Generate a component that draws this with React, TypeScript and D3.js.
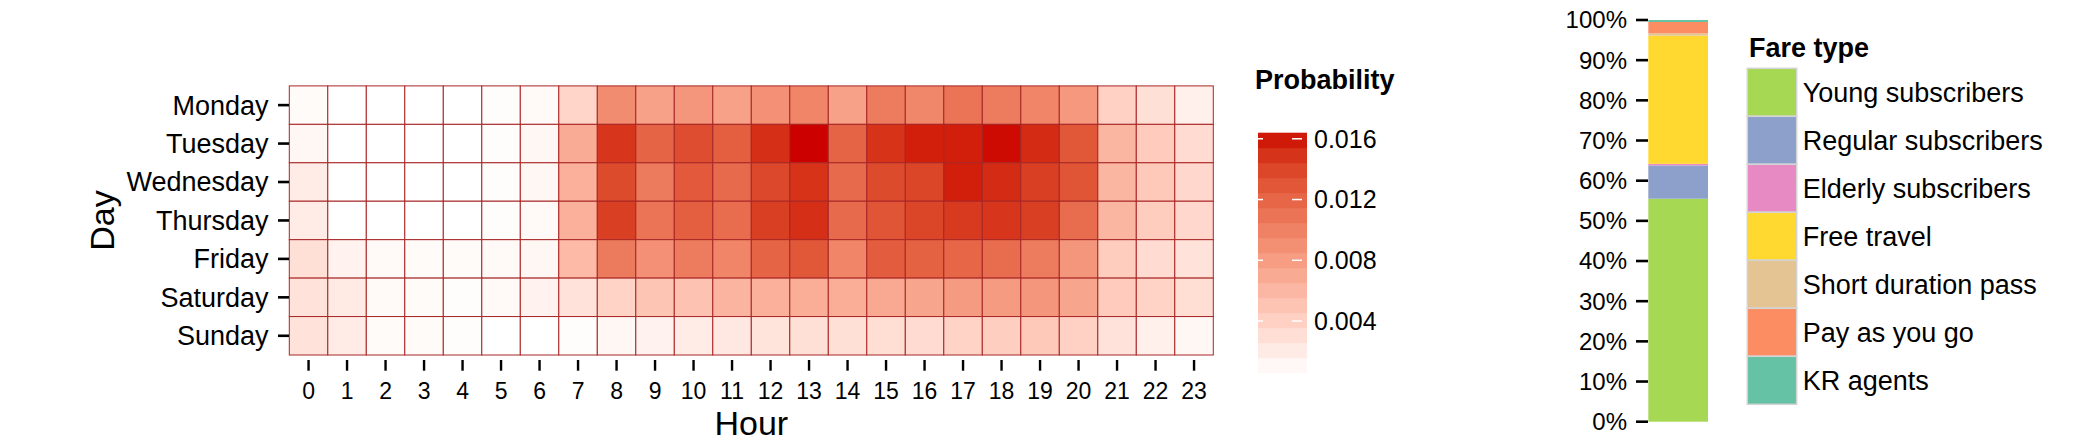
import React from "react";
import * as d3 from "d3";

const days = ["Monday", "Tuesday", "Wednesday", "Thursday", "Friday", "Saturday", "Sunday"];
const hours = d3.range(0, 24).map(String);

const monday = [0.00092,0.0006,0.0006,0.0006,0.0006,0.00076,0.00107,0.00376,0.00929,0.00771,0.0085,0.00771,0.00897,0.00976,0.00771,0.0104,0.00961,0.01103,0.0104,0.00976,0.00834,0.00408,0.00297,0.00171];
const tuesday = [0.00123,0.0006,0.0006,0.0006,0.0006,0.00076,0.00123,0.00692,0.01482,0.01213,0.01356,0.01245,0.01514,0.0164,0.01213,0.01498,0.01577,0.01577,0.01624,0.01529,0.01292,0.00613,0.00455,0.00329];
const wednesday = [0.00202,0.0006,0.0006,0.0006,0.0006,0.00076,0.00123,0.0066,0.01371,0.01055,0.01277,0.01166,0.01387,0.01498,0.01166,0.01371,0.01403,0.01577,0.01529,0.01435,0.01308,0.00613,0.00471,0.0036];
const thursday = [0.00202,0.0006,0.0006,0.0006,0.0006,0.00076,0.00107,0.0066,0.01435,0.01103,0.01245,0.0115,0.01435,0.01514,0.01166,0.01308,0.01403,0.01466,0.01482,0.01435,0.0115,0.00613,0.00439,0.0036];
const friday = [0.00297,0.00155,0.00107,0.00092,0.00092,0.00107,0.00123,0.00581,0.01055,0.00897,0.0104,0.00976,0.01213,0.01292,0.00976,0.01261,0.01229,0.01198,0.0115,0.0104,0.0085,0.00439,0.00329,0.00281];
const saturday = [0.00281,0.00218,0.00107,0.00092,0.00076,0.00107,0.00155,0.00281,0.00392,0.00502,0.00518,0.00629,0.0066,0.00676,0.00676,0.00708,0.00739,0.00818,0.00818,0.0085,0.00739,0.00455,0.00392,0.00313];
const sunday = [0.00281,0.00202,0.00092,0.00092,0.00076,0.0006,0.0006,0.00076,0.00123,0.00155,0.00202,0.00234,0.00265,0.00297,0.00297,0.00313,0.00329,0.00392,0.00423,0.00471,0.00408,0.00281,0.00171,0.00123];
const probRows = [monday, tuesday, wednesday, thursday, friday, saturday, sunday];

const probRange = [0.0006, 0.0164];
const probTicks = [0.004, 0.008, 0.012, 0.016];

const fareTypes = ["Young subscribers", "Regular subscribers", "Elderly subscribers", "Free travel", "Short duration pass", "Pay as you go", "KR agents"];
const fareShares = [0.555, 0.083, 0.004, 0.319, 0.006, 0.028, 0.005];
const fareColors = ["#A6D854", "#8DA0CB", "#E78AC3", "#FFD92F", "#E5C494", "#FC8D62", "#66C2A5"];
const pctTicks = d3.range(0, 11).map((i) => i / 10);

const FONT = "'Liberation Sans', Arial, Helvetica, sans-serif";

export default function App() {
  const W = 2089, H = 442;
  const x = d3.scaleBand().domain(hours).range([289.3, 1213.3]);
  const y = d3.scaleBand().domain(days).range([85.9, 355]);
  const color = d3.scaleLinear<string>().domain(probRange).range(["#FFFFFF", "#CD0000"]).interpolate(d3.interpolateLab);

  const cells: { d: string; h: string; v: number }[] = [];
  days.forEach((d, i) => hours.forEach((h, j) => cells.push({ d, h, v: probRows[i][j] })));

  // colorbar
  const cbY = d3.scaleLinear().domain(probRange).range([372.7, 132.7]);
  const nBands = 16;
  const bandStep = (probRange[1] - probRange[0]) / nBands;
  const bands = d3.range(nBands).map((i) => {
    const lo = probRange[0] + i * bandStep;
    return { lo, hi: lo + bandStep, mid: lo + bandStep / 2 };
  });
  const cbX0 = 1258, cbX1 = 1307;

  // stacked bar
  const py = d3.scaleLinear().domain([0, 1]).range([421.7, 20]);
  const cum = d3.cumsum(fareShares);
  const stacks = fareShares.map((s, i) => ({ lo: cum[i] - s, hi: cum[i], c: fareColors[i] }));
  const pctFmt = d3.format(".0%");
  const barX0 = 1648.3, barX1 = 1708;

  const keyX = 1747.3, keyW = 49.4, keyY0 = 68.3, keyH = 48;

  return (
    <svg width={W} height={H} style={{ position: "absolute", left: 0, top: 0, background: "#fff" }} fontFamily={FONT}>
      <rect x={0} y={0} width={W} height={H} fill="#fff" />
      {/* heatmap tiles */}
      <g>
        {cells.map((c, i) => (
          <rect key={i} x={x(c.h)} y={y(c.d)} width={x.bandwidth()} height={y.bandwidth()} fill={color(c.v)} stroke="#A82626" strokeWidth={1} />
        ))}
      </g>
      {/* y axis */}
      <g>
        {days.map((d) => {
          const cy = (y(d) as number) + y.bandwidth() / 2;
          return (
            <g key={d}>
              <line x1={278} x2={289} y1={cy} y2={cy} stroke="#000" strokeWidth={2.6} />
              <text x={268.5} y={cy} dy="0.35em" textAnchor="end" fontSize={27} fill="#000">{d}</text>
            </g>
          );
        })}
        <text transform={`translate(114,220.5) rotate(-90)`} textAnchor="middle" fontSize={34} fill="#000">Day</text>
      </g>
      {/* x axis */}
      <g>
        {hours.map((h) => {
          const cx = (x(h) as number) + x.bandwidth() / 2;
          return (
            <g key={h}>
              <line x1={cx} x2={cx} y1={360} y2={370.7} stroke="#000" strokeWidth={2.4} />
              <text x={cx} y={399.3} textAnchor="middle" fontSize={23} fill="#000">{h}</text>
            </g>
          );
        })}
        <text x={751.3} y={435} textAnchor="middle" fontSize={34} fill="#000">Hour</text>
      </g>
      {/* probability legend */}
      <g>
        <text x={1255} y={89} fontSize={27} fontWeight="bold" fill="#000">Probability</text>
        {bands.map((b, i) => (
          <rect key={i} x={cbX0} y={cbY(b.hi)} width={cbX1 - cbX0} height={cbY(b.lo) - cbY(b.hi) + 0.5} fill={color(b.mid)} />
        ))}
        {probTicks.map((t) => (
          <g key={t}>
            <line x1={cbX0} x2={cbX0 + 5} y1={cbY(t)} y2={cbY(t)} stroke="#fff" strokeWidth={1.5} />
            <line x1={cbX1 - 15} x2={cbX1 - 5} y1={cbY(t)} y2={cbY(t)} stroke="#fff" strokeWidth={1.5} />
            <text x={1314} y={cbY(t)} dy="0.35em" fontSize={25} fill="#000">{d3.format(".3f")(t)}</text>
          </g>
        ))}
      </g>
      {/* stacked bar */}
      <g>
        {stacks.map((s, i) => (
          <rect key={i} x={barX0} y={py(s.hi)} width={barX1 - barX0} height={py(s.lo) - py(s.hi)} fill={s.c} />
        ))}
        {pctTicks.map((t) => (
          <g key={t}>
            <line x1={1636} x2={1648} y1={py(t)} y2={py(t)} stroke="#000" strokeWidth={2.6} />
            <text x={1627} y={py(t)} dy="0.35em" textAnchor="end" fontSize={24} fill="#000">{pctFmt(t)}</text>
          </g>
        ))}
      </g>
      {/* fare legend */}
      <g>
        <text x={1749} y={57} fontSize={27} fontWeight="bold" fill="#000">Fare type</text>
        {fareTypes.map((f, i) => (
          <g key={f}>
            <rect x={keyX} y={keyY0 + i * keyH} width={keyW} height={keyH} fill={fareColors[i]} stroke="#D4D4D4" strokeWidth={1.5} />
            <text x={1802.7} y={keyY0 + i * keyH + keyH / 2} dy="0.35em" fontSize={27} fill="#000">{f}</text>
          </g>
        ))}
      </g>
    </svg>
  );
}
